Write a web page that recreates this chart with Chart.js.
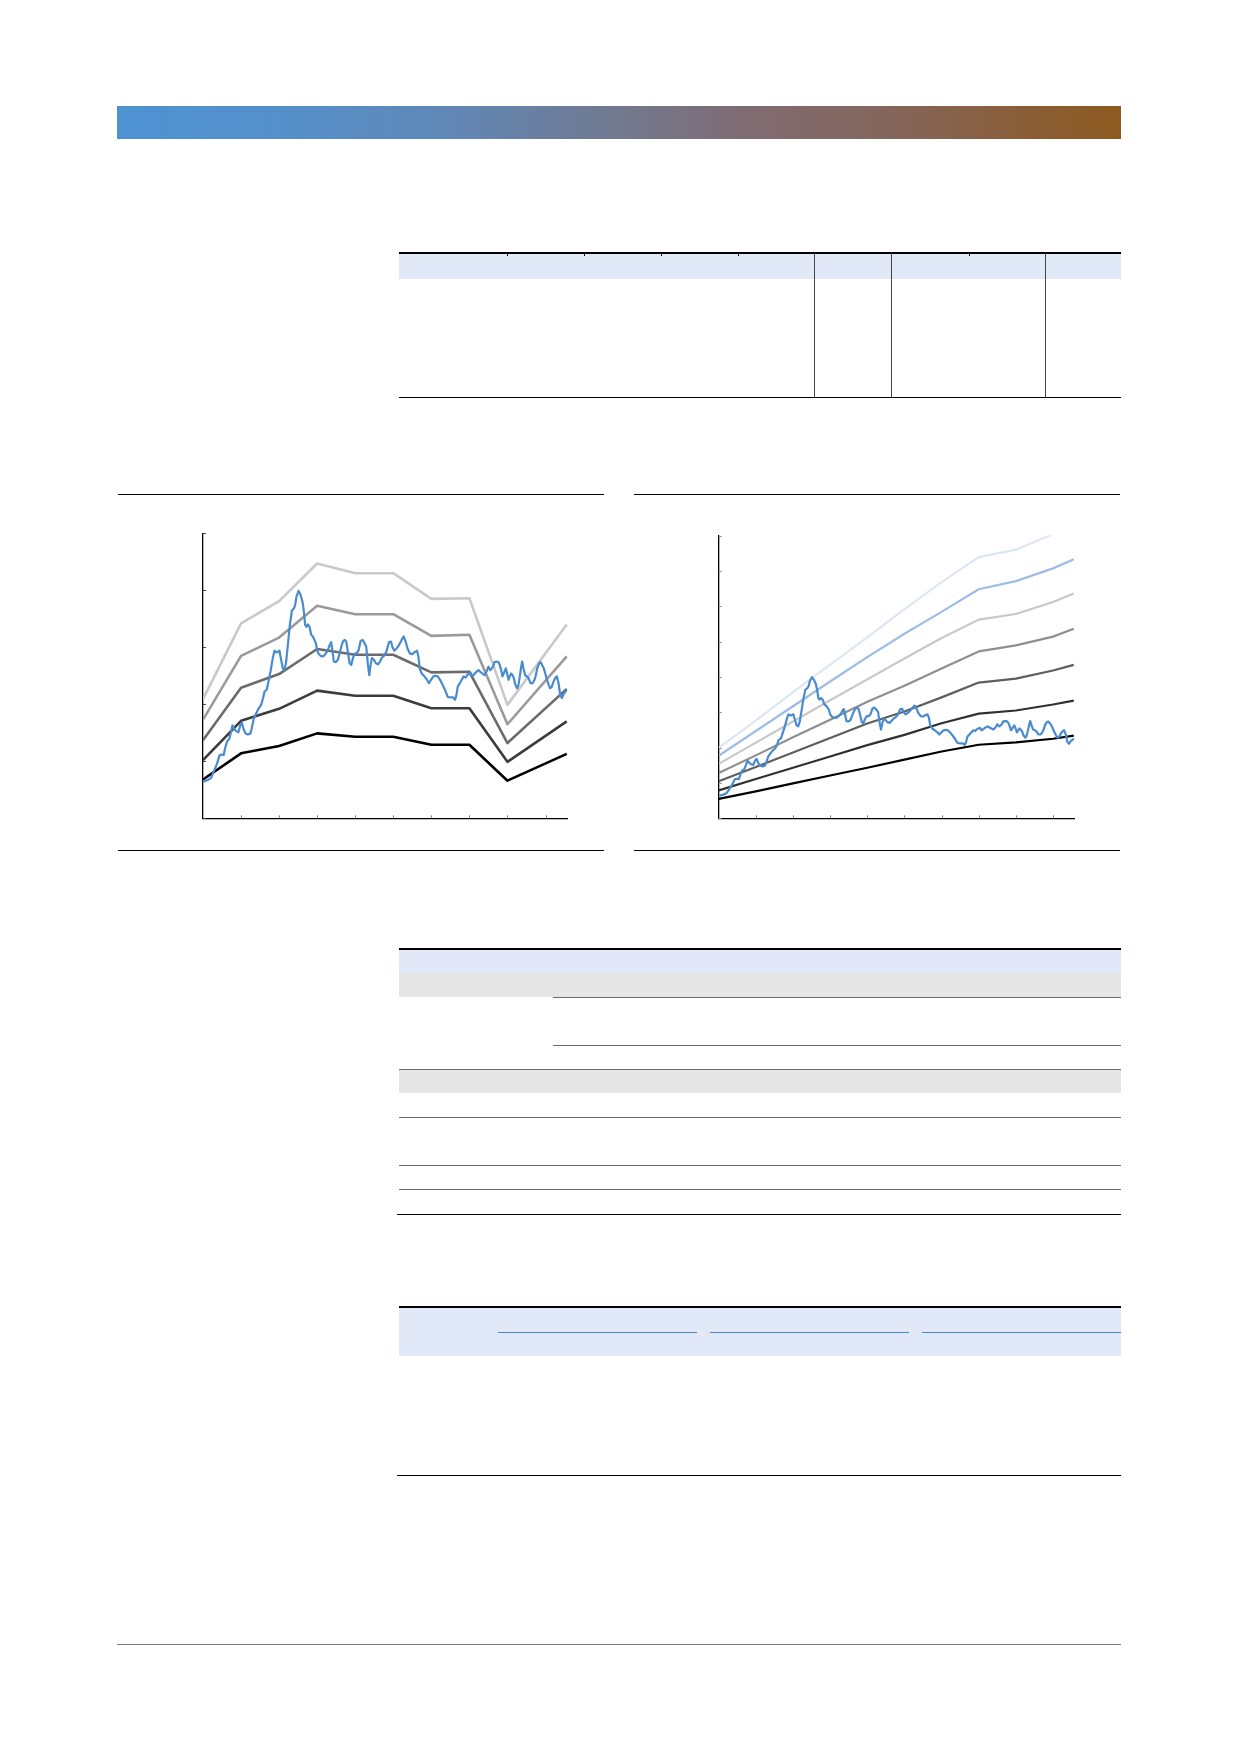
<!DOCTYPE html>
<html><head><meta charset="utf-8"><title>Chart</title>
<script src="https://cdn.jsdelivr.net/npm/chart.js@4.4.1/dist/chart.umd.min.js"></script>
<style>
html,body{margin:0;padding:0;background:#fff;}
#page{position:relative;width:1240px;height:1754px;overflow:hidden;background:#fff;font-family:"Liberation Sans",Arial,sans-serif;}
.r{position:absolute;}
canvas{position:absolute;}
#hdr{position:absolute;left:117px;top:106px;width:1004px;height:33px;
background:linear-gradient(to right,#4e92d2 0%,#5390cb 15%,#5f88b8 32%,#72798f 50%,#7f6c74 62%,#856559 78%,#8a5c33 92%,#8d5a1f 100%);}
</style></head><body><div id="page">
<div id="hdr"></div>
<canvas id="c1" width="390" height="310" style="left:190px;top:520px"></canvas>
<canvas id="c2" width="385" height="308" style="left:705px;top:522px"></canvas>
</div>
<script>
// ---------- data ----------
// x unit: months from the start of the series; ticks every 12 months
const xTickMonths = [12, 24, 36, 48, 60, 72, 84, 96, 108];

// Chart 1 (left): price with five band lines
const c1BandMonths = [0, 12, 24, 36, 48, 60, 72, 84, 96, 114.7];
const c1Band1 = [2.09, 3.42, 3.81, 4.47, 4.30, 4.30, 3.85, 3.86, 1.99, 3.40];
const c1Band2 = [1.73, 2.85, 3.17, 3.73, 3.58, 3.58, 3.20, 3.22, 1.65, 2.84];
const c1Band3 = [1.37, 2.29, 2.53, 2.97, 2.87, 2.87, 2.56, 2.57, 1.32, 2.27];
const c1Band4 = [1.02, 1.71, 1.92, 2.24, 2.15, 2.15, 1.93, 1.93, 0.99, 1.70];
const c1Band5 = [0.68, 1.14, 1.27, 1.49, 1.43, 1.43, 1.29, 1.29, 0.66, 1.13];
const c1YTicks = [0, 1, 2, 3, 4, 5];

// Chart 2 (right): same price with seven band lines
const c2BandMonths = [0, 12, 24, 36, 48, 60, 72, 84, 96, 108, 114.7];
const c2Band1 = [1.99, 2.76, 3.57, 4.35, 5.12, 5.92, 6.68, 7.39, 7.60, 8.04, 8.35];
const c2Band2 = [1.77, 2.47, 3.17, 3.87, 4.56, 5.22, 5.84, 6.48, 6.71, 7.07, 7.33];
const c2Band3 = [1.54, 2.14, 2.74, 3.34, 3.93, 4.52, 5.10, 5.62, 5.78, 6.12, 6.36];
const c2Band4 = [1.28, 1.78, 2.29, 2.79, 3.30, 3.75, 4.24, 4.72, 4.89, 5.14, 5.36];
const c2Band5 = [1.05, 1.45, 1.86, 2.27, 2.68, 3.02, 3.42, 3.84, 3.95, 4.18, 4.34];
const c2Band6 = [0.79, 1.11, 1.43, 1.75, 2.07, 2.36, 2.69, 2.96, 3.05, 3.22, 3.33];
const c2Band7 = [0.55, 0.76, 0.99, 1.21, 1.43, 1.66, 1.89, 2.08, 2.15, 2.25, 2.34];
const c2YTicks = [0, 1, 2, 3, 4, 5, 6, 7, 8];

// price series [month, value]
const price = [
[0.22,0.64],[1.48,0.67],[2.54,0.71],[3.38,0.82],[4.43,0.96],[5.17,1.10],[5.91,1.12],[6.54,1.11],[6.96,1.23],[7.59,1.35],
[8.33,1.40],[8.85,1.52],[9.27,1.63],[9.91,1.57],[10.43,1.53],[11.17,1.51],[11.8,1.64],[12.22,1.68],[12.75,1.57],[13.38,1.49],
[14.12,1.47],[14.96,1.49],[15.38,1.58],[16.01,1.75],[16.75,1.84],[17.48,1.92],[18.33,1.99],[18.96,2.11],[19.38,2.22],[20.12,2.26],
[20.64,2.40],[21.27,2.57],[22.01,2.81],[22.54,2.94],[23.17,2.91],[23.59,2.92],[24.12,2.94],[24.64,2.78],[25.17,2.63],[25.69,2.60],
[26.22,2.75],[26.75,3.04],[27.38,3.39],[28.01,3.64],[28.64,3.68],[29.06,3.74],[29.48,3.89],[30.12,3.99],[30.75,3.92],[31.38,3.80],
[31.8,3.63],[32.22,3.39],[32.64,3.36],[33.06,3.40],[33.59,3.36],[34.12,3.22],[34.64,3.19],[35.17,3.13],[35.59,3.07],[36.01,2.94],
[36.43,2.89],[37.06,2.85],[37.48,2.84],[38.12,2.85],[38.75,2.89],[39.38,2.95],[40.01,3.05],[40.43,3.09],[40.85,2.92],[41.27,2.75],
[41.91,2.74],[42.54,2.78],[43.06,2.89],[43.59,3.01],[44.12,3.10],[44.64,3.13],[45.17,3.10],[45.69,2.92],[46.22,2.72],[46.75,2.69],
[47.27,2.81],[47.8,2.89],[48.43,2.89],[49.06,2.95],[49.69,3.11],[50.33,3.13],[50.96,3.07],[51.48,3.01],[52.01,2.69],[52.43,2.51],
[52.85,2.69],[53.27,2.81],[53.91,2.78],[54.54,2.72],[55.17,2.70],[55.8,2.75],[56.43,2.82],[57.06,2.85],[57.8,2.92],
[58.64,3.09],[59.27,3.10],[59.69,3.01],[60.33,2.94],[61.06,2.98],[61.8,3.04],[62.64,3.13],[63.27,3.19],[63.91,3.10],[64.54,2.97],
[65.27,2.89],[66.01,2.88],[66.85,2.92],[67.48,2.94],[67.91,2.84],[68.33,2.63],[68.96,2.54],[69.8,2.49],[70.54,2.44],[71.27,2.37],
[71.91,2.43],[72.64,2.49],[73.38,2.50],[74.01,2.49],[74.75,2.43],[75.48,2.35],[76.33,2.25],[77.17,2.13],[78.01,2.12],[78.85,2.12],
[79.48,2.08],[79.91,2.16],[80.33,2.31],[80.96,2.37],[81.59,2.43],[82.22,2.49],[82.85,2.47],[83.27,2.51],[83.69,2.53],[84.33,2.56],
[84.96,2.49],[85.59,2.53],[86.22,2.57],[86.85,2.60],[87.48,2.57],[88.12,2.54],[88.75,2.51],[89.38,2.57],[90.01,2.66],[90.64,2.60],
[91.06,2.63],[91.48,2.66],[91.91,2.74],[92.54,2.75],[93.17,2.74],[93.59,2.69],[94.01,2.60],[94.43,2.49],[95.06,2.57],[95.48,2.63],
[95.91,2.54],[96.33,2.43],[96.75,2.49],[97.17,2.54],[97.59,2.51],[98.01,2.46],[98.43,2.35],[99.06,2.28],[99.48,2.34],[99.91,2.49],
[100.33,2.66],[100.64,2.75],[101.06,2.63],[101.59,2.51],[102.12,2.49],[102.64,2.46],[103.27,2.37],[103.91,2.37],[104.54,2.43],[104.96,2.51],
[105.38,2.63],[106.01,2.72],[106.43,2.74],[106.85,2.70],[107.48,2.63],[107.91,2.54],[108.43,2.44],[108.96,2.35],[109.48,2.28],[110.01,2.31],
[110.54,2.40],[111.06,2.46],[111.59,2.49],[112.12,2.37],[112.64,2.16],[113.17,2.11],[113.7,2.18],[114.22,2.22],[114.75,2.25]
];

// ---------- page decoration (tables / rules) ----------
const decor = [
  // chart frame rules
  [118,494,486,1,'#000'],[118,850,486,1,'#000'],[634,494,486,1,'#000'],[634,850,486,1,'#000'],
  // table 1
  [399,254,722,25,'#e1e8f7'],[399,252.3,722,1.5,'#000'],[399,396.5,722,1.5,'#000'],
  [814,253,1,144,'#444'],[891,253,1,144,'#444'],[1045,253,1,144,'#444'],
  [507,253.5,1,2,'#000'],[584,253.5,1,2,'#000'],[661,253.5,1,2,'#000'],[738,253.5,1,2,'#000'],[969,253.5,1,2,'#000'],
  // table 2
  [399,949.5,722,23.5,'#e1e8f7'],[399,973,722,24,'#e6e6e6'],[399,948.3,722,1.5,'#000'],
  [553,996.6,568,1,'#6b6b6b'],[553,1044.6,568,1,'#6b6b6b'],
  [399,1069.5,722,23.5,'#e6e6e6'],[399,1068.6,722,1,'#6b6b6b'],
  [399,1116.6,722,1,'#6b6b6b'],[399,1164.6,722,1,'#6b6b6b'],[399,1188.6,722,1,'#6b6b6b'],
  [397,1213.5,724,1.5,'#000'],
  // table 3
  [399,1307.5,722,48,'#e1e8f7'],[399,1306.3,722,1.5,'#000'],
  [498,1332,199,1,'#4a8bd0'],[710,1332,199,1,'#4a8bd0'],[922,1332,199,1,'#4a8bd0'],
  [397,1474.5,724,1.5,'#000'],
  // footer rule
  [117,1643.5,1004,1.5,'#808080']
];
const page = document.getElementById('page');
decor.forEach(([x,y,w,h,c]) => {
  const d = document.createElement('div');
  d.className = 'r';
  d.style.cssText = `left:${x}px;top:${y}px;width:${w}px;height:${h}px;background:${c}`;
  page.appendChild(d);
});

// ---------- charts ----------
const innerTicks = {
  id: 'innerTicks',
  afterDraw(chart, args, o) {
    const {ctx, chartArea: a, scales: {x, y}} = chart;
    ctx.save();
    ctx.lineWidth = 1;
    ctx.strokeStyle = o.yColor;
    o.yTicks.forEach(v => {
      const p = Math.round(y.getPixelForValue(v)) + 0.5;
      ctx.beginPath(); ctx.moveTo(a.left, p); ctx.lineTo(a.left + o.len, p); ctx.stroke();
    });
    ctx.strokeStyle = o.xColor;
    o.xTicks.forEach(v => {
      const p = Math.round(x.getPixelForValue(v)) + 0.5;
      ctx.beginPath(); ctx.moveTo(p, a.bottom); ctx.lineTo(p, a.bottom - o.len); ctx.stroke();
    });
    ctx.restore();
  }
};

function bandDs(xs, ys, color, width) {
  return {data: xs.map((m, i) => ({x: m, y: ys[i]})), borderColor: color, borderWidth: width,
          pointRadius: 0, tension: 0, fill: false, order: 1, borderJoinStyle: 'round'};
}
function priceDs(width) {
  return {data: price.map(([m, v]) => ({x: m, y: v})), borderColor: '#4a8bd0', borderWidth: width,
          pointRadius: 0, tension: 0, fill: false, order: 0, borderJoinStyle: 'round'};
}
function axis(min, max, sizeKey) {
  return {type: 'linear', min, max,
    ticks: {display: false},
    grid: {display: true, drawOnChartArea: false, drawTicks: false},
    border: {display: true, color: '#000', width: 1.3},
    afterFit(s) { s[sizeKey] = 0; }};
}
function makeChart(id, datasets, ymax, yTicks, pad, yTickColor) {
  return new Chart(document.getElementById(id), {
    type: 'line',
    data: {datasets},
    options: {
      responsive: false, animation: false, events: [],
      layout: {padding: pad},
      plugins: {legend: {display: false}, tooltip: {enabled: false},
        innerTicks: {yTicks, xTicks: xTickMonths, len: 3, yColor: yTickColor, xColor: '#8a8a8a'}},
      scales: {x: axis(0, 115, 'height'), y: axis(0, ymax, 'width')}
    },
    plugins: [innerTicks]
  });
}

makeChart('c1', [
  priceDs(2.2),
  bandDs(c1BandMonths, c1Band1, '#c9c9c9', 2.6),
  bandDs(c1BandMonths, c1Band2, '#9a9a9a', 2.6),
  bandDs(c1BandMonths, c1Band3, '#6b6b6b', 2.6),
  bandDs(c1BandMonths, c1Band4, '#3c3c3c', 2.6),
  bandDs(c1BandMonths, c1Band5, '#000000', 2.6)
], 5, c1YTicks, {left: 13, top: 13.3, right: 12.3, bottom: 11.7}, '#444');

makeChart('c2', [
  priceDs(2.2),
  bandDs(c2BandMonths, c2Band1, '#dce6f5', 2.2),
  bandDs(c2BandMonths, c2Band2, '#9dbde4', 2.2),
  bandDs(c2BandMonths, c2Band3, '#c8c8c8', 2.2),
  bandDs(c2BandMonths, c2Band4, '#8f8f8f', 2.2),
  bandDs(c2BandMonths, c2Band5, '#5e5e5e', 2.2),
  bandDs(c2BandMonths, c2Band6, '#303030', 2.2),
  bandDs(c2BandMonths, c2Band7, '#000000', 2.2)
], 8, c2YTicks, {left: 13.7, top: 13.5, right: 15.3, bottom: 11.7}, '#8a8a8a');
</script>
</body></html>
